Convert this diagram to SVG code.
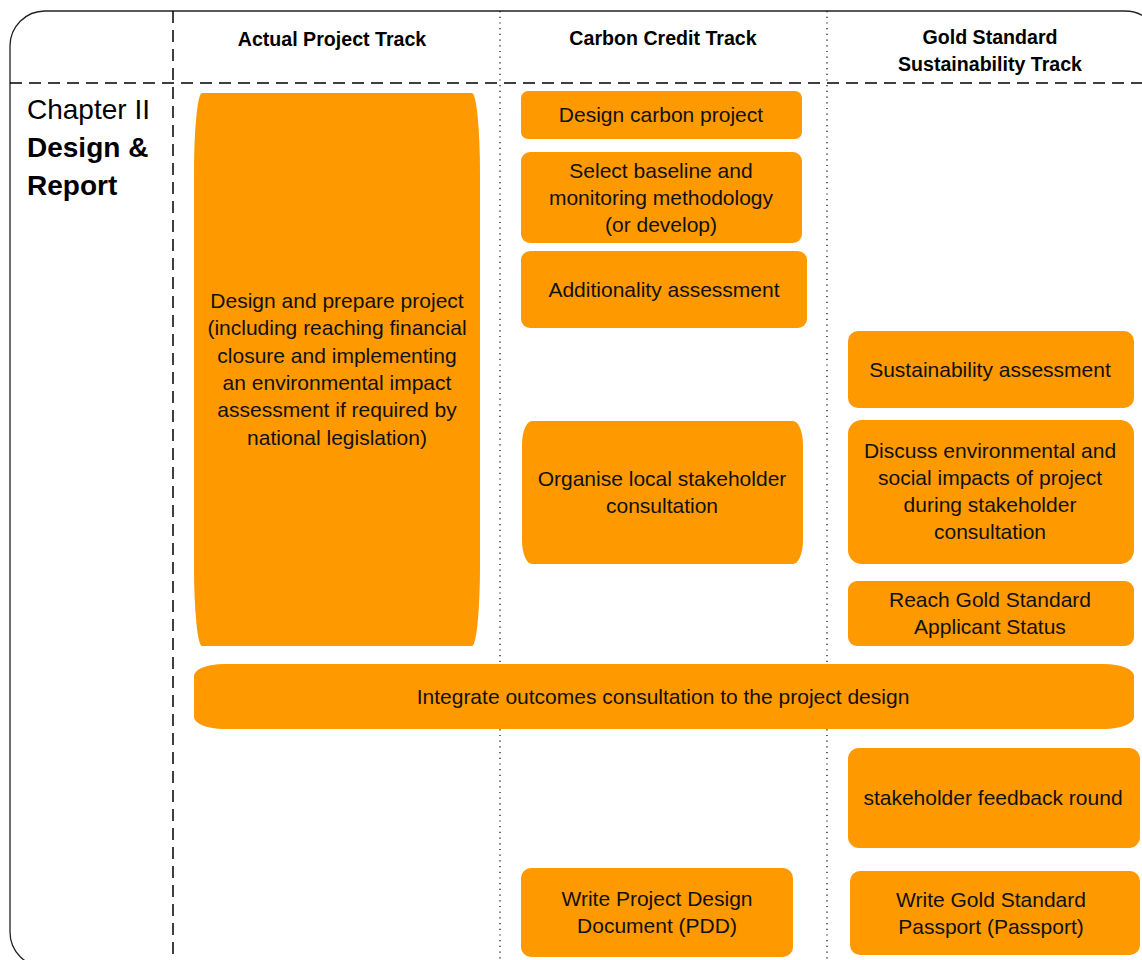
<svg xmlns="http://www.w3.org/2000/svg" width="1142" height="960" viewBox="0 0 1142 960">
<style>
.box{fill:#FF9900;}
.t{font-family:"Liberation Sans",Arial,sans-serif;font-size:21px;fill:#111;text-anchor:middle;}
.h{font-family:"Liberation Sans",Arial,sans-serif;font-size:19.6px;font-weight:bold;fill:#000;text-anchor:middle;}
.ch{font-family:"Liberation Sans",Arial,sans-serif;font-size:28px;fill:#000;}
.dash{stroke:#000;stroke-width:1.5;stroke-dasharray:12 7;fill:none;}
.dot{stroke:#000;stroke-width:1.2;stroke-dasharray:1.2 4.5;fill:none;}
</style>
<rect width="1142" height="960" fill="#fff"/>
<g id="frame">
<rect x="10" y="11" width="1150" height="956" rx="35" ry="35" fill="none" stroke="#222" stroke-width="1.3"/>
</g>
<g id="grid">
<line class="dash" x1="173" y1="11" x2="173" y2="960"/>
<line class="dash" x1="10" y1="83" x2="1142" y2="83"/>
<line class="dot" x1="500" y1="11" x2="500" y2="960"/>
<line class="dot" x1="827" y1="11" x2="827" y2="960"/>
</g>
<g id="headers">
<text class="h" x="332" y="46">Actual Project Track</text>
<text class="h" x="663" y="45">Carbon Credit Track</text>
<text class="h" x="990" y="44">Gold Standard</text>
<text class="h" x="990" y="71">Sustainability Track</text>
</g>
<g id="chapter">
<text class="ch" x="27" y="119">Chapter II</text>
<text class="ch" x="27" y="157" font-weight="bold" font-size="27.5">Design &amp;</text>
<text class="ch" x="27" y="195" font-weight="bold" font-size="27.5">Report</text>
</g>
<g id="n-design-prepare">
<rect class="box" x="194" y="93" width="286" height="553" rx="8" ry="80"/>
<text class="t" x="337" y="308">Design and prepare project</text>
<text class="t" x="337" y="335">(including reaching financial</text>
<text class="t" x="337" y="363">closure and implementing</text>
<text class="t" x="337" y="390">an environmental impact</text>
<text class="t" x="337" y="417">assessment if required by</text>
<text class="t" x="337" y="445">national legislation)</text>
</g>
<g id="n-design-carbon">
<rect class="box" x="521" y="91" width="281" height="48" rx="7"/>
<text class="t" x="661" y="122">Design carbon project</text>
</g>
<g id="n-select-baseline">
<rect class="box" x="521" y="152" width="281" height="91" rx="9"/>
<text class="t" x="661" y="178">Select baseline and</text>
<text class="t" x="661" y="205">monitoring methodology</text>
<text class="t" x="661" y="232">(or develop)</text>
</g>
<g id="n-additionality">
<rect class="box" x="521" y="251" width="286" height="77" rx="9"/>
<text class="t" x="664" y="297">Additionality assessment</text>
</g>
<g id="n-organise">
<rect class="box" x="522" y="421" width="281" height="143" rx="10" ry="24"/>
<text class="t" x="662" y="486">Organise local stakeholder</text>
<text class="t" x="662" y="513">consultation</text>
</g>
<g id="n-sustainability">
<rect class="box" x="848" y="331" width="286" height="77" rx="10"/>
<text class="t" x="990" y="377">Sustainability assessment</text>
</g>
<g id="n-discuss">
<rect class="box" x="848" y="420" width="286" height="144" rx="14"/>
<text class="t" x="990" y="458">Discuss environmental and</text>
<text class="t" x="990" y="485">social impacts of project</text>
<text class="t" x="990" y="512">during stakeholder</text>
<text class="t" x="990" y="539">consultation</text>
</g>
<g id="n-reach">
<rect class="box" x="848" y="581" width="286" height="65" rx="9"/>
<text class="t" x="990" y="607">Reach Gold Standard</text>
<text class="t" x="990" y="634">Applicant Status</text>
</g>
<g id="n-integrate">
<rect class="box" x="194" y="664" width="940" height="65" rx="30" ry="12"/>
<text class="t" x="663" y="704">Integrate outcomes consultation to the project design</text>
</g>
<g id="n-feedback">
<rect class="box" x="848" y="748" width="292" height="100" rx="11"/>
<text class="t" x="993" y="805">stakeholder feedback round</text>
</g>
<g id="n-pdd">
<rect class="box" x="521" y="868" width="272" height="89" rx="10"/>
<text class="t" x="657" y="906">Write Project Design</text>
<text class="t" x="657" y="933">Document (PDD)</text>
</g>
<g id="n-passport">
<rect class="box" x="850" y="871" width="290" height="84" rx="10"/>
<text class="t" x="991" y="907">Write Gold Standard</text>
<text class="t" x="991" y="934">Passport (Passport)</text>
</g>
<g id="connectors"></g>
</svg>
